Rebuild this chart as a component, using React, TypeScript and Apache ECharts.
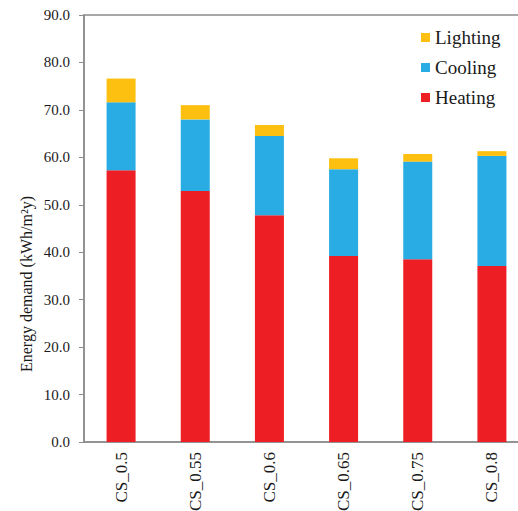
import React, { useEffect, useRef } from "react";
import * as echarts from "echarts";

const categories = ["CS_0.5", "CS_0.55", "CS_0.6", "CS_0.65", "CS_0.75", "CS_0.8"];
const heating = [57.3, 52.9, 47.8, 39.2, 38.5, 37.1];
const cooling = [14.3, 15.1, 16.7, 18.3, 20.6, 23.2];
const lighting = [5.0, 3.0, 2.3, 2.3, 1.6, 1.0];
const yTicks = { min: 0, max: 90, interval: 10 };

const FONT = "'Liberation Serif', 'Times New Roman', serif";
const AXIS = "#8c8c8c";
const TEXT = "#1a1a1a";

export default function App() {
  const ref = useRef<HTMLDivElement>(null);
  useEffect(() => {
    if (!ref.current) return;
    const chart = echarts.init(ref.current, undefined, { renderer: "svg" });
    chart.setOption({
      animation: false,
      backgroundColor: "#ffffff",
      textStyle: { fontFamily: FONT },
      grid: {
        left: 84,
        top: 15,
        width: 445,
        bottom: 69,
        outerBoundsMode: "none",
        containLabel: false,
        show: true,
        borderColor: AXIS,
        borderWidth: 1.5,
        backgroundColor: "transparent",
      },
      legend: {
        data: ["Lighting", "Cooling", "Heating"],
        orient: "vertical",
        left: 421,
        top: 28,
        padding: 0,
        itemWidth: 9,
        itemHeight: 9,
        itemGap: 11,
        itemStyle: { borderWidth: 0 },
        textStyle: { fontFamily: FONT, fontSize: 19, color: TEXT },
        icon: "rect",
      },
      xAxis: {
        type: "category",
        data: categories,
        axisLine: { lineStyle: { color: AXIS, width: 1.5 } },
        axisTick: { inside: true, length: 5, lineStyle: { color: AXIS } },
        axisLabel: {
          rotate: 90,
          margin: 10,
          fontFamily: FONT,
          fontSize: 17,
          color: TEXT,
        },
      },
      yAxis: {
        type: "value",
        min: yTicks.min,
        max: yTicks.max,
        interval: yTicks.interval,
        axisLine: { show: true, lineStyle: { color: AXIS, width: 1.5 } },
        axisTick: { show: true, length: 5, lineStyle: { color: AXIS } },
        splitLine: { show: false },
        axisLabel: {
          margin: 14,
          fontFamily: FONT,
          fontSize: 15,
          color: TEXT,
          formatter: (v: number) => v.toFixed(1),
        },
      },
      graphic: [
        {
          type: "text",
          x: 26,
          y: 284,
          rotation: Math.PI / 2,
          style: {
            text: "Energy demand (kWh/m²y)",
            fontFamily: FONT,
            fontSize: 16,
            fill: TEXT,
            align: "center",
            verticalAlign: "middle",
          },
        },
      ],
      series: [
        {
          name: "Heating",
          type: "bar",
          stack: "total",
          data: heating,
          barWidth: 29,
          itemStyle: { color: "#ED1F24" },
        },
        {
          name: "Cooling",
          type: "bar",
          stack: "total",
          data: cooling,
          barWidth: 29,
          itemStyle: { color: "#29ACE3" },
        },
        {
          name: "Lighting",
          type: "bar",
          stack: "total",
          data: lighting,
          barWidth: 29,
          itemStyle: { color: "#FDC010" },
        },
      ],
    });
    return () => chart.dispose();
  }, []);
  return <div ref={ref} style={{ width: 518, height: 511, position: "absolute", left: 0, top: 0 }} />;
}
